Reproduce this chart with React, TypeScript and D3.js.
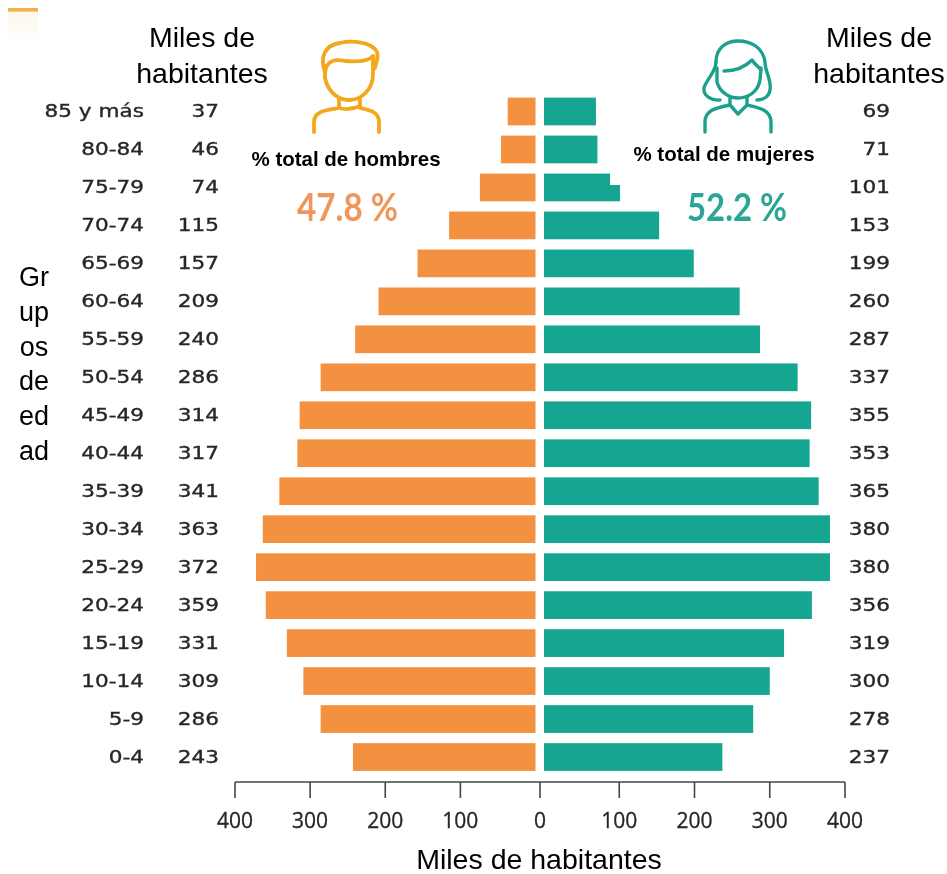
import React from "react";
import * as d3 from "d3";

const groups = ["85 y más","80-84","75-79","70-74","65-69","60-64","55-59","50-54","45-49","40-44","35-39","30-34","25-29","20-24","15-19","10-14","5-9","0-4"];
const men = [37,46,74,115,157,209,240,286,314,317,341,363,372,359,331,309,286,243];
const women = [69,71,101,153,199,260,287,337,355,353,365,380,380,356,319,300,278,237];
const ticks = [100,200,300,400];
const yTitle = ["Gr","up","os","de","ed","ad"];

const ORANGE = "#F4913F";
const TEAL = "#12A590";
const TEXT = "#262626";

export default function App() {
  const xL = d3.scaleLinear().domain([0,400]).range([535.5,235]);
  const xR = d3.scaleLinear().domain([0,400]).range([544,845]);
  const y = d3.scaleBand().domain(groups).range([92.5,776]).paddingInner(0.27).paddingOuter(0.135);
  const bw = y.bandwidth();
  const cy = (g:string)=> (y(g) as number)+bw/2;
  const sans = "'Liberation Sans', Arial, sans-serif";
  const dv = "'DejaVu Sans', sans-serif";
  const axisY = 782;
  const wide = (x:number, yy:number)=>`translate(${x},${yy}) scale(1.2,1)`;
  return (
    <svg width={947} height={874} viewBox="0 0 947 874" style={{position:"absolute",left:0,top:0,background:"#fff"}}>
      <defs>
        <linearGradient id="fade" x1="0" y1="0" x2="0" y2="1">
          <stop offset="0" stopColor="#EFB04A"/>
          <stop offset="0.09" stopColor="#EFB04A"/>
          <stop offset="0.14" stopColor="#FDF6EA"/>
          <stop offset="1" stopColor="#fff"/>
        </linearGradient>
        <filter id="soft"><feGaussianBlur stdDeviation="0.5"/></filter>
      </defs>
      <rect x={8} y={8} width={30} height={32} fill="url(#fade)"/>

      {/* bars */}
      <g filter="url(#soft)">
        {groups.map((g,i)=>(
          <g key={g}>
            <rect x={xL(men[i])} y={y(g)} width={xL(0)-xL(men[i])} height={bw} fill={ORANGE}/>
            <rect x={xR(0)} y={y(g)} width={xR(women[i])-xR(0)} height={bw} fill={TEAL}/>
          </g>
        ))}
      </g>
      {/* white label box cutting the 75-79 bar */}
      <rect x={610} y={133} width={210} height={52} fill="#fff"/>

      {/* row labels */}
      <g filter="url(#soft)" fontFamily={dv} fontSize={18} fill={TEXT} stroke={TEXT} strokeWidth={0.35} textAnchor="end">
        {groups.map((g,i)=>(
          <g key={g}>
            <text transform={wide(144,cy(g)+5.5)}>{g}</text>
            <text transform={wide(219,cy(g)+5.5)}>{men[i]}</text>
            <text transform={wide(890,cy(g)+5.5)}>{women[i]}</text>
          </g>
        ))}
      </g>

      {/* axis */}
      <g stroke="#444" strokeWidth={1.6} fill="none">
        <line x1={xL(400)} x2={xR(400)} y1={axisY} y2={axisY}/>
        <line x1={540} x2={540} y1={axisY} y2={798}/>
        {ticks.map(t=><line key={"l"+t} x1={xL(t)} x2={xL(t)} y1={axisY} y2={798}/>)}
        {ticks.map(t=><line key={"r"+t} x1={xR(t)} x2={xR(t)} y1={axisY} y2={798}/>)}
      </g>
      <g fontFamily="'Open Sans', sans-serif" fontSize={21} fill={TEXT} stroke={TEXT} strokeWidth={0.3} textAnchor="middle" filter="url(#soft)">
        <text x={540} y={828}>0</text>
        {ticks.map(t=><text key={"l"+t} x={xL(t)} y={828}>{t}</text>)}
        {ticks.map(t=><text key={"r"+t} x={xR(t)} y={828}>{t}</text>)}
      </g>

      {/* titles */}
      <g fontFamily={sans} fontSize={28.5} fill="#000" textAnchor="middle">
        <text x={202} y={47}>Miles de</text>
        <text x={202} y={83}>habitantes</text>
        <text x={879} y={47}>Miles de</text>
        <text x={879} y={83}>habitantes</text>
        <text x={539} y={869}>Miles de habitantes</text>
      </g>
      <g fontFamily={sans} fontSize={27} fill="#000" textAnchor="middle">
        {yTitle.map((s,i)=><text key={i} x={34} y={286+i*34.8}>{s}</text>)}
      </g>
      <g fontFamily={sans} fontSize={20.5} fontWeight={700} fill="#000" textAnchor="middle">
        <text x={346} y={166}>% total de hombres</text>
        <text x={724} y={161}>% total de mujeres</text>
      </g>
      <g fontFamily="Lato, sans-serif" fontSize={38} fontWeight={700} textAnchor="middle" filter="url(#soft)">
        <text x={347.5} y={221} fill="#F0965A" textLength={101} lengthAdjust="spacingAndGlyphs">47.8 %</text>
        <text x={737} y={221} fill="#2BA596" textLength={100} lengthAdjust="spacingAndGlyphs">52.2 %</text>
      </g>

      {/* man icon */}
      <g fill="none" stroke="#F2A71B" strokeWidth={3.8} strokeLinecap="round" strokeLinejoin="round" filter="url(#soft)">
        <path d="M325 72 C320 58 324 45 340 43 C352 40 372 42 377 52 C379 58 376 62 375 68"/>
        <path d="M325 72 C327 60 335 59 345 61 C356 62 368 62 373 56"/>
        <path d="M325 66 L325 78 C328 92 338 100 349 100 C361 100 373 90 373 74 L373 56"/>
        <path d="M339 100 L339 108 C330 110 314 110 314 122 L314 132"/>
        <path d="M360 100 L360 108 C368 110 379 111 379 122 L379 132"/>
        <path d="M339 108 C346 110 353 109 360 106"/>
      </g>
      {/* woman icon */}
      <g fill="none" stroke="#1FA08E" strokeWidth={3.4} strokeLinecap="round" strokeLinejoin="round" filter="url(#soft)">
        <path d="M716 62 C716 48 726 41 738 41 C752 41 763 48 765 62 C765 72 772 80 770 90 C769 97 763 100 757 100"/>
        <path d="M716 62 C716 72 706 80 704 88 C703 96 712 101 720 100"/>
        <path d="M724 71 C734 71 744 68 752 60 C756 66 760 68 761 70"/>
        <path d="M717 68 L717 82 C720 93 730 98 738 98 C748 98 758 92 760 80 L761 68"/>
        <path d="M730 98 L730 105 L738 114 L747 105 L747 98"/>
        <path d="M730 105 C716 108 705 110 705 122 L705 132"/>
        <path d="M747 105 C760 108 771 110 771 122 L771 132"/>
      </g>
    </svg>
  );
}
